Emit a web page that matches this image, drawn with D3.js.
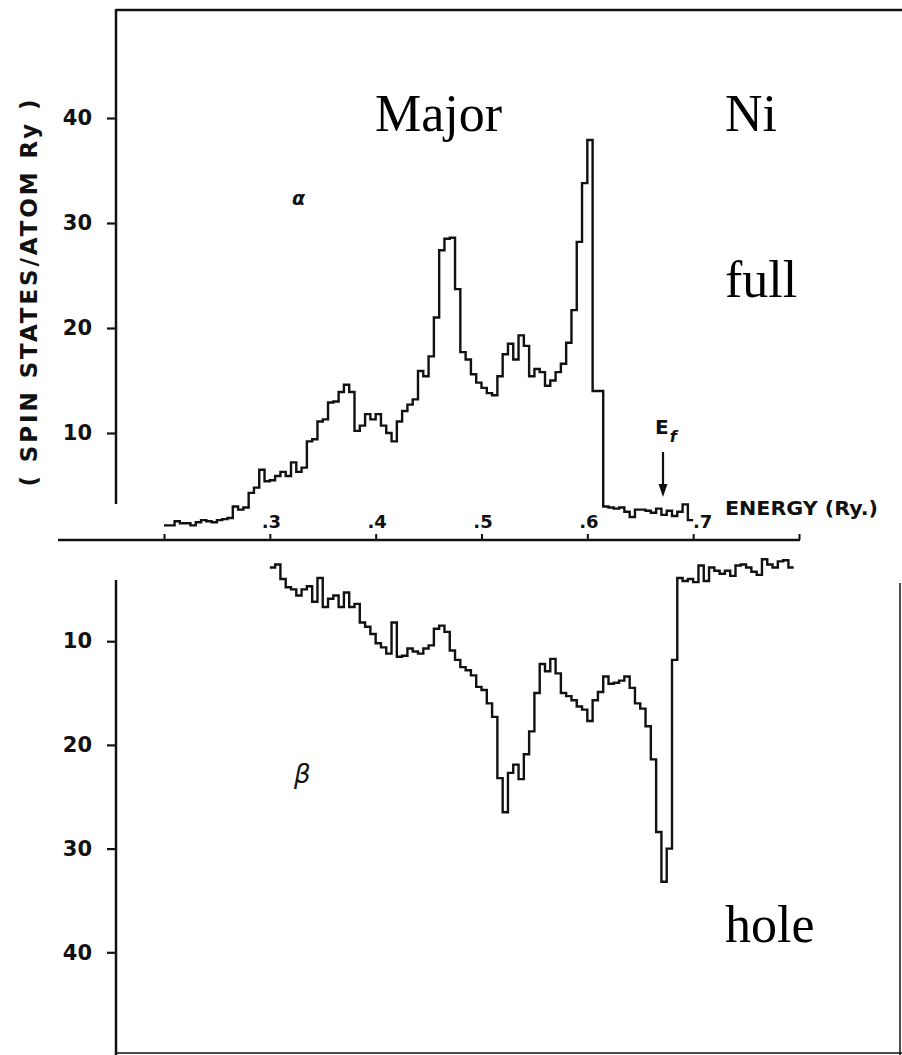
<!DOCTYPE html>
<meta charset="UTF-8">
<script src="https://cdnjs.cloudflare.com/ajax/libs/d3/7.4.4/d3.min.js"></script>
<style>
    body { margin: 0; background: #fff; }
    svg { display: block; }
</style>
<svg id="dos" width="902" height="1055"></svg>
<script>
    // Ni density of states, majority (alpha, drawn up) and minority (beta, drawn down)
    const binWidth = 0.005;
    const majorityStart = 0.2;
    const majorityDos = [
        1.2, 1.2, 1.6, 1.4, 1.4, 1.2, 1.5, 1.7, 1.6, 1.5, 1.7, 1.8, 1.9,
        3.0, 2.7, 2.9, 4.3, 4.8, 6.5, 5.4, 5.5, 5.9, 6.3, 5.9, 7.2, 6.3, 6.7, 9.2, 9.4,
        11.1, 11.3, 12.9, 13.0, 13.9, 14.6, 13.9, 10.2, 10.7, 11.8, 11.3, 11.8, 10.7, 10.0,
        9.2, 11.1, 12.1, 12.7, 13.2, 15.9, 15.4, 17.3, 21.0, 27.4, 28.5, 28.6, 23.7, 17.7,
        17.0, 15.6, 14.8, 14.3, 13.8, 13.6,
        15.4, 17.5, 18.5, 17.0, 19.3, 18.3, 15.4, 16.1, 15.8, 14.5, 15.0, 15.8, 16.6, 18.6,
        21.7, 28.2, 33.8, 37.9,
        14.0, 14.0,
        3.0, 2.9, 2.8, 2.9, 2.5, 2.0, 2.7, 2.7, 2.6, 2.4, 2.8, 2.2, 2.6, 2.1, 2.5, 3.2, 1.7
    ];
    const minorityStart = 0.3;
    const minorityDos = [
        2.9, 2.6, 4.0, 4.8, 5.0, 5.6, 5.0, 4.7, 6.2, 3.9, 6.7, 5.9, 5.6, 6.7, 5.3, 6.7, 6.4,
        8.2, 8.6, 9.3, 10.2, 10.6, 11.2, 8.2, 11.5, 11.4, 10.7, 11.0, 11.2, 10.7, 10.4,
        8.8, 8.5, 9.1, 10.9, 11.8, 12.5, 12.8, 13.3, 14.4, 14.7, 16.0, 17.3, 23.2, 26.5,
        22.7, 21.9, 23.3, 20.9, 18.7, 15.0, 12.2, 12.9, 11.7, 13.1, 15.0, 15.3, 15.7, 16.3,
        16.6, 17.7, 15.7, 14.9, 13.4, 14.1, 14.0, 13.8, 13.4, 14.5, 16.0, 16.5, 18.2, 21.4,
        28.4, 33.2, 30.0, 11.8,
        3.9, 4.2, 4.0, 4.3, 2.7, 4.2, 2.9, 3.2, 3.5, 3.2, 3.7, 2.7, 2.6, 2.9, 3.3, 3.6,
        2.1, 2.6, 2.9, 2.3, 2.2, 2.9
    ];
    const energyTicks = [0.2, 0.3, 0.4, 0.5, 0.6, 0.7, 0.8];
    const energyLabels = ["", ".3", ".4", ".5", ".6", ".7", ""];
    const dosTicks = [10, 20, 30, 40];
    const fermiEnergy = 0.6715;

    let svg = d3.select("#dos");
    let width = +svg.attr("width"),
        height = +svg.attr("height");
    const axisFont = "DejaVu Sans";
    const serif = "Liberation Serif";
    const ink = "#111";

    let x = d3.scaleLinear().domain([0.2, 0.8]).range([164, 799]);
    let yTop = d3.scaleLinear().domain([0, 40]).range([538, 118]);
    let yBot = d3.scaleLinear().domain([0, 40]).range([537.5, 952.3]);

    function steps(start, values) {
        let pts = values.map(function (v, i) { return [start + i * binWidth, v]; });
        pts.push([start + values.length * binWidth, values[values.length - 1]]);
        return pts;
    }

    // frame lines
    let frame = svg.append("g").attr("stroke", ink).attr("stroke-width", 2.5).attr("fill", "none");
    frame.append("line").attr("x1", 116).attr("x2", 116).attr("y1", 9).attr("y2", 504);
    frame.append("line").attr("x1", 116).attr("x2", width).attr("y1", 10).attr("y2", 10);
    frame.append("line").attr("x1", 116).attr("x2", 116).attr("y1", 580).attr("y2", height);
    frame.append("line").attr("x1", 116).attr("x2", width).attr("y1", 1053).attr("y2", 1053).attr("stroke-width", 1.5);
    frame.append("line").attr("x1", 900).attr("x2", 900).attr("y1", 583).attr("y2", height).attr("stroke-width", 1.5);
    frame.append("line").attr("x1", 58).attr("x2", x(0.8) + 1).attr("y1", 540).attr("y2", 540);

    // y axes
    let topAxis = svg.append("g")
        .attr("transform", "translate(116,0)")
        .call(d3.axisLeft(yTop).tickValues(dosTicks).tickSize(9).tickPadding(15).tickFormat(d3.format("d")));
    let botAxis = svg.append("g")
        .attr("transform", "translate(116,0)")
        .call(d3.axisLeft(yBot).tickValues(dosTicks).tickSize(9).tickPadding(15).tickFormat(d3.format("d")));
    [topAxis, botAxis].forEach(function (g) {
        g.select(".domain").remove();
        g.selectAll(".tick line").attr("stroke", ink).attr("stroke-width", 2.2);
        g.selectAll(".tick text")
            .style("font-family", axisFont)
            .style("font-weight", "bold")
            .style("font-size", "21px")
            .attr("fill", ink);
    });

    // energy axis
    let eAxis = svg.append("g")
        .attr("transform", "translate(0,540)")
        .call(d3.axisTop(x).tickValues(energyTicks).tickSize(6).tickPadding(6)
            .tickFormat(function (d, i) { return energyLabels[i]; }));
    eAxis.select(".domain").remove();
    eAxis.selectAll(".tick line").attr("stroke", ink).attr("stroke-width", 2);
    eAxis.selectAll(".tick text")
        .style("font-family", axisFont)
        .style("font-weight", "bold")
        .style("font-size", "18px")
        .attr("fill", ink)
        .attr("dx", function (d, i) { return energyLabels[i] === ".7" ? 9 : 1; });

    // histograms
    let lineTop = d3.line().x(function (d) { return x(d[0]); }).y(function (d) { return yTop(d[1]); }).curve(d3.curveStepAfter);
    let lineBot = d3.line().x(function (d) { return x(d[0]); }).y(function (d) { return yBot(d[1]); }).curve(d3.curveStepAfter);
    svg.append("path")
        .attr("d", lineTop(steps(majorityStart, majorityDos)))
        .attr("fill", "none").attr("stroke", ink).attr("stroke-width", 2.4);
    svg.append("path")
        .attr("d", lineBot(steps(minorityStart, minorityDos)))
        .attr("fill", "none").attr("stroke", ink).attr("stroke-width", 2.4);

    // y label
    svg.append("text")
        .attr("transform", "translate(37,293) rotate(-90)")
        .attr("text-anchor", "middle")
        .attr("textLength", 387)
        .attr("lengthAdjust", "spacing")
        .style("font-family", axisFont)
        .style("font-weight", "bold")
        .style("font-size", "23px")
        .attr("fill", ink)
        .text("( SPIN STATES/ATOM Ry )");

    svg.append("text")
        .attr("x", 725).attr("y", 515)
        .attr("textLength", 153)
        .attr("lengthAdjust", "spacingAndGlyphs")
        .style("font-family", axisFont)
        .style("font-weight", "bold")
        .style("font-size", "19px")
        .attr("fill", ink)
        .text("ENERGY (Ry.)");

    // E_f marker
    let ef = svg.append("text")
        .attr("x", x(fermiEnergy) - 8).attr("y", 434)
        .style("font-family", axisFont)
        .style("font-weight", "bold")
        .style("font-size", "20px")
        .attr("fill", ink);
    ef.append("tspan").text("E");
    ef.append("tspan").attr("dy", 8).attr("dx", 1).style("font-size", "16px").style("font-style", "italic").text("f");
    svg.append("line")
        .attr("x1", x(fermiEnergy)).attr("x2", x(fermiEnergy))
        .attr("y1", 452).attr("y2", 488)
        .attr("stroke", ink).attr("stroke-width", 2.2);
    svg.append("path")
        .attr("d", "M" + (x(fermiEnergy) - 4.5) + ",484 L" + x(fermiEnergy) + ",497 L" + (x(fermiEnergy) + 4.5) + ",484 Z")
        .attr("fill", ink);

    // spin labels
    svg.append("text")
        .attr("x", 292).attr("y", 205)
        .style("font-family", axisFont)
        .style("font-weight", "bold")
        .style("font-style", "italic")
        .style("font-size", "19px")
        .attr("fill", ink)
        .text("α");
    svg.append("text")
        .attr("x", 294).attr("y", 783)
        .style("font-family", axisFont)
        .style("font-style", "italic")
        .style("font-size", "26px")
        .attr("fill", ink)
        .text("β");

    // annotations
    let notes = [
        {t: "Major", x: 375, y: 131},
        {t: "Ni", x: 725, y: 131},
        {t: "full", x: 725, y: 297},
        {t: "hole", x: 725, y: 942}
    ];
    svg.selectAll(".note")
        .data(notes)
        .enter()
        .append("text")
        .attr("class", "note")
        .attr("x", function (d) { return d.x; })
        .attr("y", function (d) { return d.y; })
        .style("font-family", serif)
        .style("font-size", "52px")
        .attr("fill", "#000")
        .text(function (d) { return d.t; });
</script>
